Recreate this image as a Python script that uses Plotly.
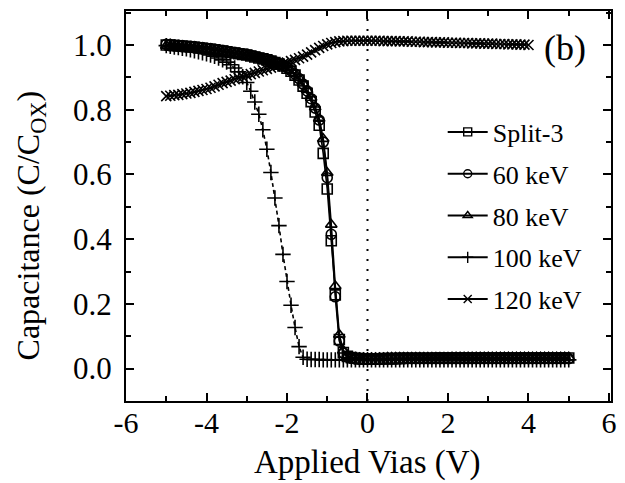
import numpy as np
import plotly.graph_objects as go

# bias grid (V)
V_all = np.round(np.arange(-50, 51) / 10.0, 1)      # -5.0 .. 5.0
V_120 = np.round(np.arange(-50, 41) / 10.0, 1)      # -5.0 .. 4.0

split3 = [1.000, 0.999, 0.998, 0.997, 0.996, 0.995, 0.994, 0.993, 0.991, 0.990,
          0.988, 0.987, 0.985, 0.983, 0.981, 0.979, 0.977, 0.975, 0.973, 0.971,
          0.969, 0.966, 0.963, 0.960, 0.957, 0.954, 0.950, 0.946, 0.941, 0.935,
          0.928, 0.919, 0.907, 0.892, 0.873, 0.851, 0.825, 0.793, 0.752, 0.665,
          0.555, 0.395, 0.228, 0.090, 0.050, 0.038, 0.034, 0.032, 0.031, 0.030,
          0.030,
          0.030, 0.030, 0.030, 0.031, 0.031, 0.031, 0.031, 0.032, 0.032, 0.032,
          0.032, 0.032, 0.032, 0.032, 0.032, 0.032, 0.033, 0.033, 0.033, 0.033,
          0.033, 0.033, 0.033, 0.033, 0.033, 0.033, 0.033, 0.033, 0.033, 0.033,
          0.033, 0.033, 0.033, 0.033, 0.033, 0.033, 0.033, 0.033, 0.033, 0.033,
          0.033, 0.033, 0.033, 0.033, 0.033, 0.033, 0.033, 0.033, 0.033, 0.033]

kev60 = [1.002, 1.001, 1.000, 0.999, 0.998, 0.997, 0.996, 0.995, 0.993, 0.992,
         0.990, 0.989, 0.987, 0.985, 0.983, 0.981, 0.979, 0.977, 0.975, 0.973,
         0.971, 0.968, 0.965, 0.962, 0.959, 0.956, 0.952, 0.948, 0.943, 0.937,
         0.930, 0.921, 0.910, 0.896, 0.879, 0.858, 0.834, 0.805, 0.768, 0.700,
         0.590, 0.415, 0.222, 0.085, 0.048, 0.036, 0.032, 0.030, 0.029, 0.029,
         0.029,
         0.029, 0.029, 0.029, 0.030, 0.030, 0.030, 0.030, 0.030, 0.030, 0.031,
         0.031, 0.031, 0.031, 0.031, 0.031, 0.031, 0.031, 0.031, 0.031, 0.031,
         0.031, 0.031, 0.031, 0.031, 0.031, 0.031, 0.031, 0.031, 0.031, 0.031,
         0.031, 0.031, 0.031, 0.031, 0.031, 0.031, 0.031, 0.031, 0.031, 0.031,
         0.031, 0.031, 0.031, 0.031, 0.031, 0.031, 0.031, 0.031, 0.031, 0.031]

kev80 = [0.998, 0.997, 0.996, 0.995, 0.994, 0.993, 0.992, 0.991, 0.989, 0.988,
         0.986, 0.985, 0.983, 0.981, 0.979, 0.977, 0.975, 0.973, 0.971, 0.969,
         0.967, 0.965, 0.962, 0.959, 0.956, 0.953, 0.950, 0.946, 0.942, 0.936,
         0.929, 0.922, 0.911, 0.898, 0.881, 0.861, 0.837, 0.808, 0.772, 0.710,
         0.605, 0.445, 0.255, 0.105, 0.056, 0.040, 0.035, 0.034, 0.033, 0.033,
         0.033,
         0.033, 0.033, 0.033, 0.033, 0.034, 0.034, 0.034, 0.034, 0.034, 0.034,
         0.034, 0.034, 0.034, 0.034, 0.034, 0.034, 0.034, 0.034, 0.034, 0.034,
         0.035, 0.035, 0.035, 0.035, 0.035, 0.035, 0.035, 0.035, 0.035, 0.035,
         0.035, 0.035, 0.035, 0.035, 0.035, 0.035, 0.035, 0.035, 0.035, 0.035,
         0.035, 0.035, 0.035, 0.035, 0.035, 0.035, 0.035, 0.035, 0.035, 0.035]

kev100 = [0.998, 0.996, 0.994, 0.992, 0.990, 0.988, 0.985, 0.982, 0.979, 0.976,
          0.973, 0.969, 0.965, 0.960, 0.954, 0.947, 0.939, 0.929, 0.917, 0.902,
          0.884, 0.857, 0.824, 0.786, 0.738, 0.678, 0.606, 0.527, 0.442, 0.353,
          0.269, 0.196, 0.127, 0.068, 0.035, 0.029, 0.028, 0.028, 0.028, 0.027,
          0.027, 0.027, 0.027, 0.027, 0.027, 0.027, 0.027, 0.027, 0.027, 0.027,
          0.027,
          0.027, 0.027, 0.027, 0.027, 0.027, 0.027, 0.027, 0.027, 0.027, 0.027,
          0.027, 0.027, 0.027, 0.027, 0.027, 0.027, 0.027, 0.027, 0.027, 0.027,
          0.027, 0.027, 0.027, 0.027, 0.027, 0.027, 0.027, 0.027, 0.027, 0.027,
          0.027, 0.027, 0.027, 0.027, 0.027, 0.027, 0.027, 0.027, 0.027, 0.027,
          0.027, 0.027, 0.027, 0.027, 0.027, 0.027, 0.027, 0.027, 0.027, 0.027]

kev120 = [0.842, 0.843, 0.845, 0.846, 0.848, 0.850, 0.852, 0.855, 0.858, 0.861,
          0.864, 0.868, 0.872, 0.877, 0.882, 0.886, 0.890, 0.894, 0.898, 0.902,
          0.906, 0.910, 0.914, 0.918, 0.922, 0.926, 0.930, 0.934, 0.938, 0.942,
          0.946, 0.950, 0.954, 0.959, 0.964, 0.970, 0.977, 0.984, 0.991, 0.997,
          1.002, 1.006, 1.009, 1.011, 1.012, 1.013, 1.013, 1.013, 1.013, 1.013,
          1.013,
          1.013, 1.013, 1.013, 1.012, 1.012, 1.012, 1.012, 1.011, 1.011, 1.011,
          1.010, 1.010, 1.010, 1.009, 1.009, 1.009, 1.008, 1.008, 1.008, 1.007,
          1.007, 1.007, 1.006, 1.006, 1.006, 1.005, 1.005, 1.005, 1.004, 1.004,
          1.004, 1.003, 1.003, 1.003, 1.002, 1.002, 1.002, 1.001, 1.001, 1.000]

names = ["Split-3", "60 keV", "80 keV", "100 keV", "120 keV"]
symbols = ["square-open", "circle-open", "triangle-up-open", "cross-thin-open", "x-thin-open"]
sizes = [10, 10, 10, 11, 10]
dashes = ["solid", "solid", "solid", "4px,3px", "solid"]
xs = [V_all, V_all, V_all, V_all, V_120]
ys = [split3, kev60, kev80, kev100, kev120]

x_ticks = [-6, -4, -2, 0, 2, 4, 6]
x_ticktext = ["-6", "-4", "-2", "0", "2", "4", "6"]
y_ticks = [0.0, 0.2, 0.4, 0.6, 0.8, 1.0]
y_ticktext = ["0.0", "0.2", "0.4", "0.6", "0.8", "1.0"]

FONT = "Liberation Serif"
fig = go.Figure()

for x, y, sym, sz, ds in zip(xs, ys, symbols, sizes, dashes):
    fig.add_trace(go.Scatter(
        x=x, y=y, mode="lines+markers", showlegend=False,
        line=dict(color="black", width=1.6, dash=ds),
        marker=dict(symbol=sym, size=sz, color="black",
                    line=dict(color="black", width=1.6)),
    ))

# legend entries (solid line keys as in the original)
for nm, sym in zip(names, symbols):
    fig.add_trace(go.Scatter(
        x=[None], y=[None], mode="lines+markers", name=nm,
        line=dict(color="black", width=2),
        marker=dict(symbol=sym, size=8, color="black",
                    line=dict(color="black", width=1.4)),
        legendgroup=nm,
    ))

fig.add_vline(x=0, line=dict(color="black", width=2, dash="2px,8px"))

axis_common = dict(
    showline=True, linecolor="black", linewidth=2, mirror="allticks",
    ticks="inside", ticklen=8, tickwidth=2, tickcolor="black",
    showgrid=False, zeroline=False,
)

fig.update_xaxes(range=[-6, 6.05], tickvals=x_ticks, ticktext=x_ticktext,
                 minor=dict(tickvals=[-5, -3, -1, 1, 3, 5], ticks="inside",
                            ticklen=5, tickwidth=2, tickcolor="black"),
                 tickfont=dict(family=FONT, size=30, color="black"),
                 ticklabelstandoff=-6,
                 **axis_common)
fig.update_yaxes(range=[-0.1, 1.105], tickvals=y_ticks, ticktext=y_ticktext,
                 minor=dict(tickvals=[-0.1, 0.1, 0.3, 0.5, 0.7, 0.9, 1.1], ticks="inside",
                            ticklen=5, tickwidth=2, tickcolor="black"),
                 tickfont=dict(family=FONT, size=31, color="black"),
                 ticklabelstandoff=6,
                 **axis_common)

fig.add_annotation(text="Applied Vias (V)", xref="paper", yref="paper",
                   x=0.498, y=-0.209, xanchor="center", yanchor="bottom",
                   showarrow=False, font=dict(family=FONT, size=33, color="black"))
fig.add_annotation(text="Capacitance (C/C<sub>OX</sub>)", xref="paper", yref="paper",
                   x=-0.196, y=0.45, xanchor="center", yanchor="middle", textangle=-90,
                   showarrow=False, font=dict(family=FONT, size=32, color="black"))
fig.add_annotation(text="(b)", xref="paper", yref="paper",
                   x=0.905, y=0.905, xanchor="center", yanchor="middle",
                   showarrow=False, font=dict(family=FONT, size=36, color="black"))

fig.update_layout(
    width=625, height=483,
    margin=dict(l=126, r=9, t=9, b=82),
    paper_bgcolor="white", plot_bgcolor="white",
    showlegend=True,
    legend=dict(x=0.653, y=0.75, xanchor="left", yanchor="top",
                bgcolor="rgba(0,0,0,0)", borderwidth=0,
                font=dict(family=FONT, size=26, color="black"),
                tracegroupgap=5, itemwidth=40),
)

fig.write_html("out.html")
